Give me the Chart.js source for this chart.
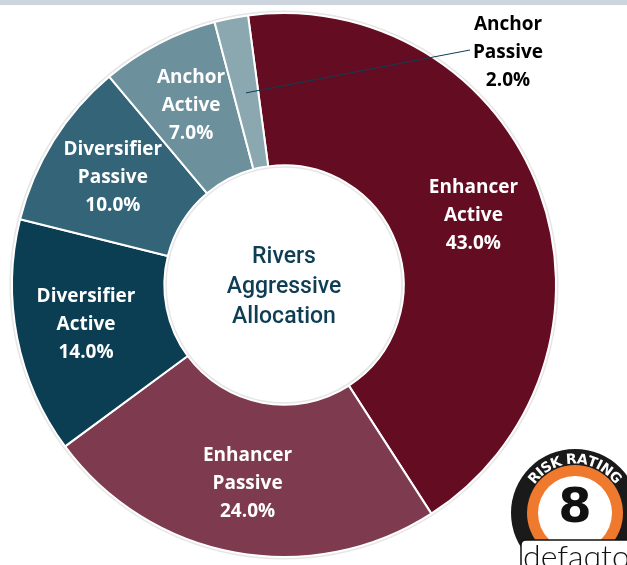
<!DOCTYPE html>
<html><head><meta charset="utf-8">
<script src="https://cdn.jsdelivr.net/npm/chart.js@4"></script>
<style>
html,body{margin:0;padding:0;background:#fff;}
#wrap{position:relative;width:627px;height:565px;overflow:hidden;}
canvas{display:block;}
</style></head>
<body><div id="wrap"><canvas id="c" width="627" height="565"></canvas></div>
<script>
const categories = ["Enhancer Active","Enhancer Passive","Diversifier Active","Diversifier Passive","Anchor Active","Anchor Passive"];
const labelLines = [["Enhancer","Active"],["Enhancer","Passive"],["Diversifier","Active"],["Diversifier","Passive"],["Anchor","Active"],["Anchor","Passive"]];
const values = [43.0, 24.0, 14.0, 10.0, 7.0, 2.0];
const colors = ["#640c22","#7e3a4e","#0c3e53","#336477","#6c919d","#8ba8b1"];
const centerTitle = ["Rivers","Aggressive","Allocation"];
const riskRating = "8";

const labelFont = "bold 19px 'Open Sans', Lato, sans-serif";

const decoPlugin = {
  id:'deco',
  beforeDraw(chart){
    const ctx = chart.ctx;
    ctx.save();
    ctx.fillStyle = "#ccd5de";
    ctx.fillRect(0,0,chart.width,5);
    ctx.restore();
  },
  beforeDatasetsDraw(chart){
    const arc = chart.getDatasetMeta(0).data[0];
    if(!arc) return;
    const p = arc.getProps(['x','y','innerRadius','outerRadius']);
    const ctx = chart.ctx;
    ctx.save();
    ctx.strokeStyle = "#e6e6e6";
    ctx.lineWidth = 3;
    ctx.beginPath(); ctx.arc(p.x,p.y,p.outerRadius+1,0,Math.PI*2); ctx.stroke();
    ctx.beginPath(); ctx.arc(p.x,p.y,p.innerRadius-1,0,Math.PI*2); ctx.stroke();
    ctx.restore();
  },
  afterDatasetsDraw(chart){
    const ctx = chart.ctx;
    const meta = chart.getDatasetMeta(0);
    ctx.save();
    ctx.textAlign = "center";
    ctx.textBaseline = "middle";
    meta.data.forEach((arc,i)=>{
      const p = arc.getProps(['x','y','startAngle','endAngle','innerRadius','outerRadius']);
      const mid = (p.startAngle+p.endAngle)/2;
      const lines = labelLines[i].concat([values[i].toFixed(1)+"%"]);
      let cx, cy;
      if(values[i] < 5){
        cx = 508; cy = 53;
        const r0 = (p.innerRadius + p.outerRadius)/2;
        const sx = p.x + Math.cos(mid)*r0, sy = p.y + Math.sin(mid)*r0;
        ctx.strokeStyle = "#0c3e53"; ctx.lineWidth = 1;
        ctx.beginPath(); ctx.moveTo(sx,sy); ctx.lineTo(cx-38,cy-3); ctx.stroke();
        ctx.fillStyle = "#000";
      } else {
        const r = (p.innerRadius+p.outerRadius)/2 + 6;
        cx = p.x + Math.cos(mid)*r; cy = p.y + Math.sin(mid)*r;
        ctx.fillStyle = "#fff";
      }
      ctx.font = labelFont;
      const lh = 28;
      lines.forEach((t,k)=>{ ctx.fillText(t, cx, cy + (k-1)*lh); });
    });
    const a0 = meta.data[0].getProps(['x','y']);
    ctx.fillStyle = "#0f3e54";
    ctx.font = "500 23px Roboto, 'Open Sans', sans-serif";
    centerTitle.forEach((t,k)=>{ ctx.fillText(t, a0.x, a0.y - 28 + k*30); });
    ctx.restore();
  },
  afterDraw(chart){
    const ctx = chart.ctx;
    const cx = 575, cy = 513;
    ctx.save();
    ctx.fillStyle = "#1a1a1a";
    ctx.beginPath(); ctx.arc(cx,cy,64,0,Math.PI*2); ctx.fill();
    ctx.fillStyle = "#ef7a2e";
    ctx.beginPath(); ctx.arc(cx,cy,48,0,Math.PI*2); ctx.fill();
    ctx.fillStyle = "#fff";
    ctx.beginPath(); ctx.arc(cx,cy,37,0,Math.PI*2); ctx.fill();
    ctx.fillStyle = "#111";
    ctx.font = "bold 48px 'DejaVu Sans', sans-serif";
    ctx.textAlign = "center"; ctx.textBaseline = "middle";
    ctx.fillText(riskRating, cx, cy-3);
    const txt = "RISK RATING";
    ctx.font = "bold 14px 'DejaVu Sans', sans-serif";
    ctx.fillStyle = "#fff";
    const R = 53;
    let total = 0; const ws = [];
    for(const ch of txt){ const w = ctx.measureText(ch).width; ws.push(w); total += w; }
    let ang = -Math.PI/2 - (total/R)/2;
    [...txt].forEach((ch,k)=>{
      const a = ang + ws[k]/2/R;
      ctx.save();
      ctx.translate(cx + Math.cos(a)*R, cy + Math.sin(a)*R);
      ctx.rotate(a + Math.PI/2);
      ctx.fillText(ch,0,0);
      ctx.restore();
      ang += ws[k]/R;
    });
    ctx.fillStyle = "#fff";
    ctx.strokeStyle = "#111"; ctx.lineWidth = 1.5;
    ctx.beginPath();
    ctx.moveTo(521,568); ctx.lineTo(521,545); ctx.quadraticCurveTo(521,540,526,540); ctx.lineTo(640,540);
    ctx.lineTo(640,568); ctx.closePath();
    ctx.fill(); ctx.stroke();
    ctx.fillStyle = "#111";
    ctx.font = "300 32px Lato, 'DejaVu Sans', sans-serif";
    ctx.textAlign = "left"; ctx.textBaseline = "alphabetic";
    ctx.fillText("defaqto", 523, 568);
    ctx.restore();
  }
};

new Chart(document.getElementById('c'), {
  type:'doughnut',
  data:{ labels:categories, datasets:[{ data:values, backgroundColor:colors, borderColor:"#fff", borderWidth:2, hoverOffset:0 }] },
  options:{
    responsive:false, animation:false,
    rotation:-7.6, cutout:'44%',
    layout:{ padding:{ left:11, right:70, top:12, bottom:7 } },
    plugins:{ legend:{display:false}, tooltip:{enabled:false} }
  },
  plugins:[decoPlugin]
});
</script></body></html>
